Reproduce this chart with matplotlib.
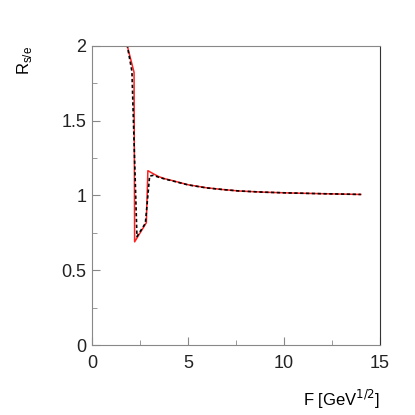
import matplotlib.pyplot as plt
from matplotlib.ticker import MultipleLocator

plt.rcParams['font.family'] = ['Liberation Sans', 'DejaVu Sans']

# red curve (solid)
f_red = [1.80, 1.84, 2.19, 2.22, 2.83, 2.91, 3.2, 3.48, 3.8, 4.21, 5.0, 5.95, 6.8, 7.68, 9.0, 10.28, 12.0, 14.0]
r_red = [2.05, 2.00, 1.824, 0.69, 0.818, 1.166, 1.145, 1.126, 1.112, 1.099, 1.072, 1.052, 1.040, 1.030, 1.022, 1.017, 1.012, 1.007]

# black curve (dotted)
f_blk = [1.80, 1.84, 2.08, 2.34, 2.78, 3.00, 3.2, 3.48, 3.8, 4.21, 5.0, 5.95, 6.8, 7.68, 9.0, 10.28, 12.0, 14.0]
r_blk = [2.05, 2.00, 1.83, 0.725, 0.814, 1.130, 1.135, 1.122, 1.110, 1.097, 1.071, 1.051, 1.040, 1.030, 1.022, 1.017, 1.012, 1.007]

fig = plt.figure(figsize=(4.15, 4.15), dpi=100)
ax = fig.add_axes([92 / 415, 70 / 415, 288 / 415, 299 / 415])

ax.plot(f_red, r_red, color='#ff2020', lw=1.1)
ax.plot(f_blk, r_blk, color='black', lw=1.2, ls=(0, (2, 1.5)))

ax.set_xlim(0, 15)
ax.set_ylim(0, 2)
ax.xaxis.set_major_locator(MultipleLocator(5))
ax.xaxis.set_minor_locator(MultipleLocator(2.5))
ax.yaxis.set_major_locator(MultipleLocator(0.5))
ax.yaxis.set_minor_locator(MultipleLocator(0.25))
ax.xaxis.set_major_formatter(plt.FuncFormatter(lambda v, p: f'{v:g}'))
ax.yaxis.set_major_formatter(plt.FuncFormatter(lambda v, p: f'{v:g}'))

ax.tick_params(which='both', direction='in', colors='#888888', labelcolor='#222222',
               labelsize=13, top=False, right=False)
ax.tick_params(which='major', length=6)
ax.tick_params(which='minor', length=3.5)
ax.tick_params(axis='x', pad=7)
ax.tick_params(axis='y', pad=4)

for side in ['left', 'bottom', 'top']:
    ax.spines[side].set_color('#888888')
ax.spines['right'].set_color('#333333')

ax.set_xlabel('F [GeV$^{1/2}$]', fontsize=12, loc='right', labelpad=12)
ax.set_ylabel('R$_{\\mathregular{s/e}}$', fontsize=12, loc='top', labelpad=20)

fig.savefig('out.png', dpi=100)
